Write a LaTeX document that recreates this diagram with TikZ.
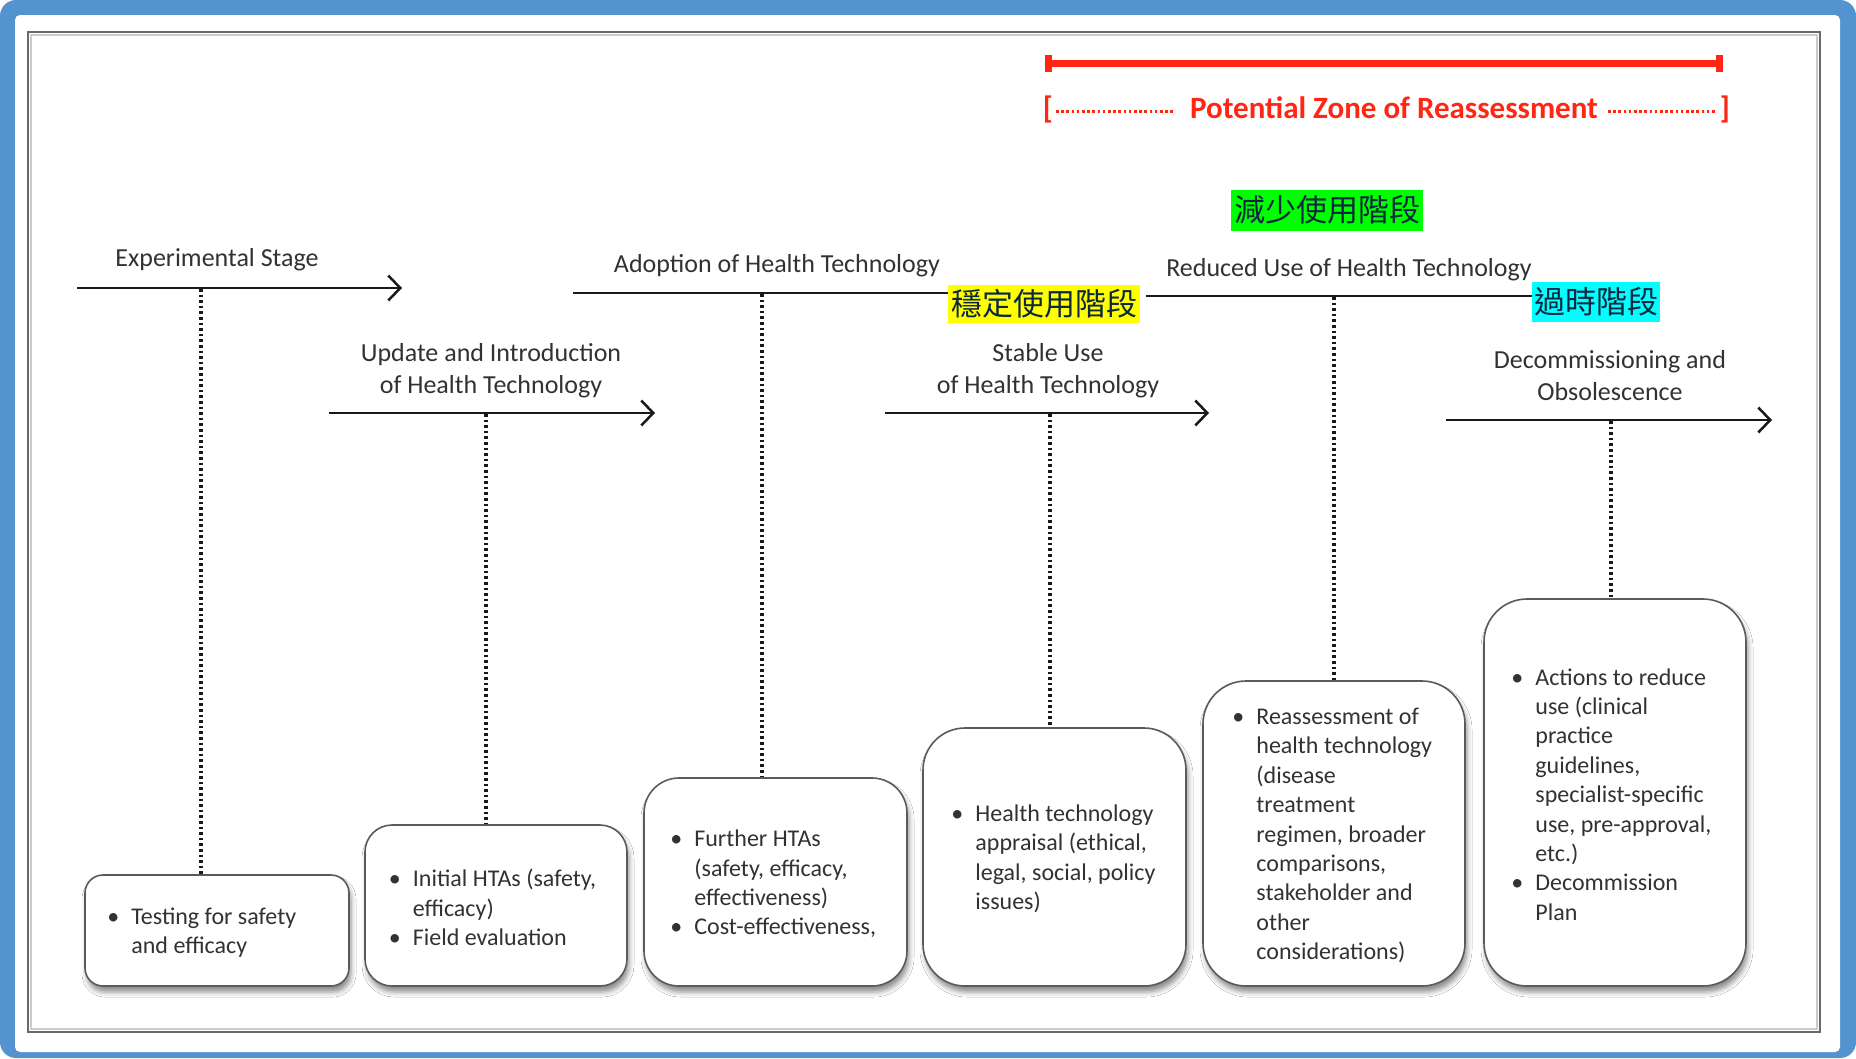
\documentclass[tikz,border=0pt]{standalone}
\usepackage{fontspec}
\setmainfont{Carlito}
\newfontfamily\cjk{Noto Sans CJK TC}
\usetikzlibrary{arrows.meta,shadows,shadows.blur,calc}
\definecolor{bordblue}{RGB}{83,147,208}
\definecolor{framegray}{RGB}{105,105,105}
\definecolor{txtgray}{RGB}{50,50,50}
\definecolor{linek}{RGB}{25,25,25}
\definecolor{boxgray}{RGB}{90,90,90}
\definecolor{zonered}{RGB}{255,38,20}
\definecolor{cjkink}{RGB}{12,40,62}
\definecolor{hlyellow}{RGB}{255,255,0}
\definecolor{hlgreen}{RGB}{0,255,0}
\definecolor{hlcyan}{RGB}{0,255,255}
\newcommand\bu{\makebox[24pt][l]{•}}
\newcommand\ind{\hspace*{24pt}}
\begin{document}
\begin{tikzpicture}[x=1pt,y=-1pt,
  stagelbl/.style={font=\fontsize{26}{32}\selectfont, text=txtgray, align=center, inner sep=0pt},
  stagearrow/.style={draw=linek, line width=2.8pt, -{Straight Barb[length=12pt,width=25pt,line width=2.5pt]}},
  stageline/.style={draw=linek, line width=2.8pt},
  dotline/.style={draw=linek, line width=3.2pt, dash pattern=on 2.6pt off 3pt},
  infobox/.style={draw=boxgray, line width=1.6pt, fill=white, rectangle,
    blur shadow={shadow xshift=2pt, shadow yshift=-6pt, shadow blur radius=5pt, shadow opacity=45}},
  boxtxt/.style={font=\fontsize{24}{29.4}\selectfont, text=txtgray, align=left, inner sep=0pt, anchor=west},
  cjklbl/.style={font=\cjk\fontsize{31}{34}\selectfont, text=cjkink, inner sep=0pt},
  zonetxt/.style={font=\bfseries\fontsize{31}{34}\selectfont, text=zonered, inner sep=0pt},
  zonebr/.style={font=\bfseries\fontsize{31}{34}\selectfont, text=zonered, inner sep=0pt},
  zonedots/.style={draw=zonered, line width=3pt, dash pattern=on 2.6pt off 2.6pt},
]
\useasboundingbox (0,0) rectangle (1856,1058);
% outer border
\fill[bordblue, rounded corners=16pt] (0,0) rectangle (1856,1058);
\fill[white, rounded corners=5pt] (15,15) rectangle (1840,1052);
% inner frame
\draw[black!20, line width=2pt] (31,35) rectangle (1817,1029);
\draw[framegray, line width=2.2pt] (28,32) rectangle (1820,1032);

% potential zone of reassessment
\coordinate (rz1) at (1049,63);
\coordinate (rz2) at (1720,63);
\draw[zonered, line width=7pt] (rz1) -- (rz2);
\fill[zonered] (1045,55) rectangle (1052,72);
\fill[zonered] (1716,55) rectangle (1723,72);
\node[zonetxt] (zt) at (1394,108) {Potential Zone of Reassessment};
\node[zonebr] (lb) at (1048,109) {[};
\node[zonebr] (rb) at (1725,109) {]};
\coordinate (zd1) at (1056,111);
\coordinate (zd2) at (1174,111);
\coordinate (zd3) at (1608,111);
\coordinate (zd4) at (1716,111);
\draw[zonedots] (zd1) -- (zd2);
\draw[zonedots] (zd3) -- (zd4);

% info boxes
\node[infobox, minimum width=264pt, minimum height=111pt, rounded corners=18pt] (b1) at (217,930.5) {};
\node[infobox, minimum width=262pt, minimum height=161pt, rounded corners=27pt] (b2) at (496,905.5) {};
\node[infobox, minimum width=263pt, minimum height=208pt, rounded corners=35pt] (b3) at (775.5,882) {};
\node[infobox, minimum width=263pt, minimum height=258pt, rounded corners=42pt] (b4) at (1054.5,857) {};
\node[infobox, minimum width=262pt, minimum height=305pt, rounded corners=43pt] (b5) at (1334,833.5) {};
\node[infobox, minimum width=262pt, minimum height=387pt, rounded corners=43pt] (b6) at (1615,792.5) {};

\node[boxtxt] (t1) at ($(b1.west)+(23,2)$) {\bu Testing for safety\\\ind and efficacy};
\node[boxtxt] (t2) at ($(b2.west)+(24.5,2)$) {\bu Initial HTAs (safety,\\\ind efficacy)\\\bu Field evaluation};
\node[boxtxt] (t3) at ($(b3.west)+(27,2)$) {\bu Further HTAs\\\ind (safety, efficacy,\\\ind effectiveness)\\\bu Cost-effectiveness,};
\node[boxtxt] (t4) at ($(b4.west)+(29,2)$) {\bu Health technology\\\ind appraisal (ethical,\\\ind legal, social, policy\\\ind issues)};
\node[boxtxt] (t5) at ($(b5.west)+(30,2)$) {\bu Reassessment of\\\ind health technology\\\ind (disease\\\ind treatment\\\ind regimen, broader\\\ind comparisons,\\\ind stakeholder and\\\ind other\\\ind considerations)};
\node[boxtxt] (t6) at ($(b6.west)+(28,2)$) {\bu Actions to reduce\\\ind use (clinical\\\ind practice\\\ind guidelines,\\\ind specialist-specific\\\ind use, pre-approval,\\\ind etc.)\\\bu Decommission\\\ind Plan};

% stage 1
\node[stagelbl] (l1) at (217,259.5) {Experimental Stage};
\coordinate (a1s) at (77,288);
\coordinate (a1e) at (402,288);
\draw[stagearrow] (a1s) -- (a1e);
\coordinate (d1) at (201,289);
\draw[dotline] (d1) -- (d1 |- b1.north);

% stage 2
\node[stagelbl] (l2) at (491,370.5) {Update and Introduction\\of Health Technology};
\coordinate (a2s) at (329,413);
\coordinate (a2e) at (655,413);
\draw[stagearrow] (a2s) -- (a2e);
\coordinate (d2) at (486,414);
\draw[dotline] (d2) -- (d2 |- b2.north);

% stage 3
\node[stagelbl] (l3) at (777,265.5) {Adoption of Health Technology};
\coordinate (a3s) at (573,293);
\coordinate (a3e) at (1000,293);
\draw[stageline] (a3s) -- (a3e);
\coordinate (d3) at (762,294);
\draw[dotline] (d3) -- (d3 |- b3.north);

% stage 4
\node[stagelbl] (l4) at (1048,370.5) {Stable Use\\of Health Technology};
\coordinate (a4s) at (885,413);
\coordinate (a4e) at (1209,413);
\draw[stagearrow] (a4s) -- (a4e);
\coordinate (d4) at (1050,414);
\draw[dotline] (d4) -- (d4 |- b4.north);

% stage 5
\node[stagelbl] (l5) at (1349,270) {Reduced Use of Health Technology};
\coordinate (a5s) at (1146,296);
\coordinate (a5e) at (1560,296);
\draw[stageline] (a5s) -- (a5e);
\coordinate (d5) at (1334,297);
\draw[dotline] (d5) -- (d5 |- b5.north);

% stage 6
\node[stagelbl] (l6) at (1610,375.5) {Decommissioning and\\Obsolescence};
\coordinate (a6s) at (1446,420);
\coordinate (a6e) at (1772,420);
\draw[stagearrow] (a6s) -- (a6e);
\coordinate (d6) at (1611,421);
\draw[dotline] (d6) -- (d6 |- b6.north);

% chinese labels
\node[cjklbl, fill=hlyellow, minimum width=192pt, minimum height=38pt] (c1) at (1044,304) {穩定使用階段};
\node[cjklbl, fill=hlgreen, minimum width=192pt, minimum height=41pt] (c2) at (1327,210) {減少使用階段};
\node[cjklbl, fill=hlcyan, minimum width=128pt, minimum height=40pt] (c3) at (1596,302) {過時階段};
\end{tikzpicture}
\end{document}
